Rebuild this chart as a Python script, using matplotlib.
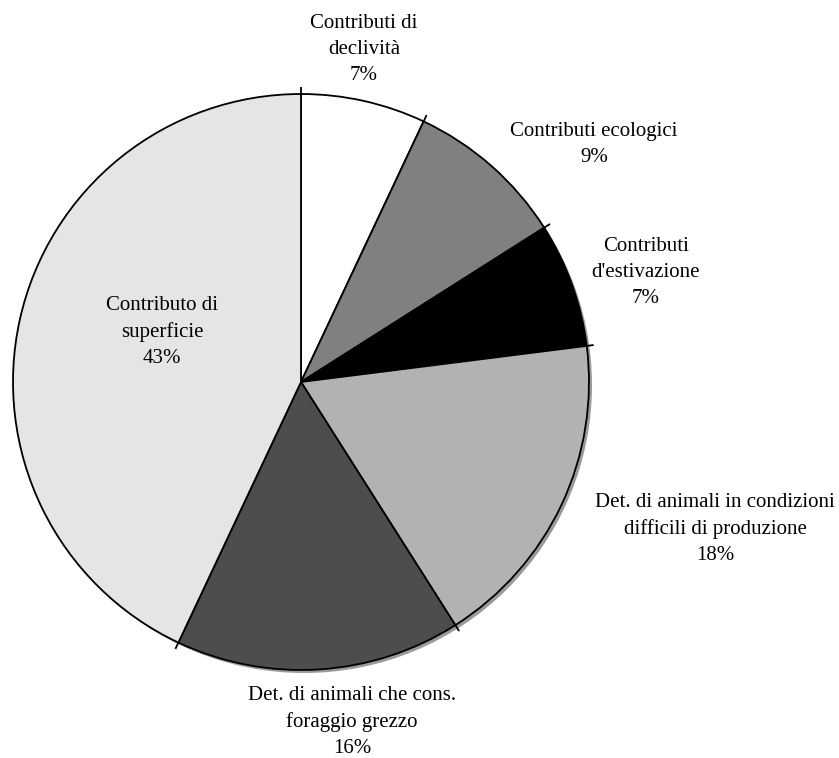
import matplotlib
matplotlib.use('Agg')
import matplotlib.pyplot as plt
from matplotlib.patches import Circle
import numpy as np

# categories in clockwise order starting from the top
categories = ['Contributi di\ndeclività',
              'Contributi ecologici',
              "Contributi\nd'estivazione",
              'Det. di animali in condizioni\ndifficili di produzione',
              'Det. di animali che cons.\nforaggio grezzo',
              'Contributo di\nsuperficie']
shares = [7, 9, 7, 18, 16, 43]
slice_colors = ['#ffffff', '#808080', '#000000', '#b2b2b2', '#4d4d4d', '#e5e5e5']

# label anchor (centre x, baseline of last line from top) in pixels
label_pos = [(364, 80), (594, 162), (646, 303), (715, 560), (352, 753), (162, 363)]

plt.rcParams['font.family'] = ['Liberation Serif', 'DejaVu Serif']

W, H = 839, 758
fig = plt.figure(figsize=(W / 100, H / 100), dpi=100)
ax = fig.add_axes([0, 0, 1, 1])

cx, cy, r = 301, H - 382, 288

# soft shadow behind the pie
ax.add_patch(Circle((cx + 3, cy - 3), r, facecolor='#9a9a9a', edgecolor='none', zorder=0))

wedges, _ = ax.pie(shares, colors=slice_colors, startangle=90, counterclock=False,
                   radius=r, center=(cx, cy),
                   wedgeprops=dict(edgecolor='black', linewidth=1.3))
for w in wedges:
    w.set_zorder(1)

# small radial ticks where slices meet the rim
cum = np.cumsum([0] + shares[:-1])
for c in cum:
    a = np.deg2rad(90 - 360 * c / sum(shares))
    ax.plot([cx + r * np.cos(a), cx + (r + 7) * np.cos(a)],
            [cy + r * np.sin(a), cy + (r + 7) * np.sin(a)],
            color='black', lw=1.3, zorder=2, solid_capstyle='butt')

for name, val, (x, y) in zip(categories, shares, label_pos):
    ax.text(x, H - y, f'{name}\n{val}%', ha='center', va='baseline',
            multialignment='center', fontsize=15, linespacing=1.5, color='black', zorder=3)

ax.set_xlim(0, W)
ax.set_ylim(0, H)
ax.set_aspect('equal')
ax.axis('off')

fig.savefig('out.png', dpi=100, facecolor='white')
